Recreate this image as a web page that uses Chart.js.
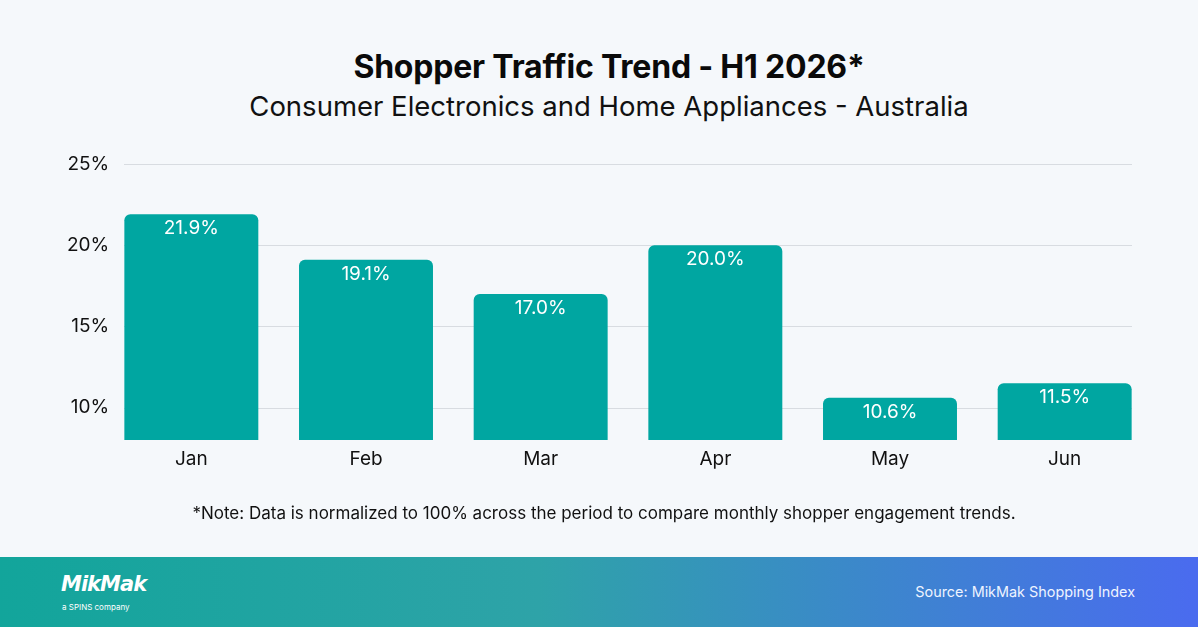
<!DOCTYPE html>
<html>
<head>
	<title>ShopperTrafficTrend</title>
	<style>
		body { margin: 0; width: 1198px; height: 627px; background: #f5f8fb; font-family: Inter, Arial, sans-serif; position: relative; overflow: hidden; }
		h1 { position: absolute; top: 47px; left: 10px; width: 1198px; margin: 0; text-align: center; font-size: 32px; font-weight: 700; color: #0a0a0a; letter-spacing: -0.2px; }
		.sub { position: absolute; top: 89px; left: 10px; width: 1198px; text-align: center; font-size: 27.5px; color: #111; }
		.note { position: absolute; top: 503px; left: 0; width: 1208px; text-align: center; font-size: 17px; color: #111; }
		#wrap { position: absolute; left: 0; top: 0; width: 1198px; height: 627px; }
		.footer { position: absolute; left: 0; top: 557px; width: 1198px; height: 70px; background: linear-gradient(90deg, #12a59b 0%, #2ea3a8 45%, #4a6bef 100%); color: #fff; }
		.logo { position: absolute; left: 61px; top: 15px; font-size: 21px; font-weight: 700; font-style: italic; letter-spacing: -1px; font-family: "DejaVu Sans", sans-serif; }
		.tag { position: absolute; left: 62px; top: 45px; font-size: 8px; }
		.src { position: absolute; right: 63px; top: 26px; font-size: 14.4px; color: #eef4ff; }
	</style>
	<script src="https://cdn.jsdelivr.net/npm/chart.js"></script>
</head>
<body>
	<h1>Shopper Traffic Trend - H1 2026*</h1>
	<div class="sub">Consumer Electronics and Home Appliances - Australia</div>
	<div id="wrap"><canvas id="trafficChart"></canvas></div>
	<div class="note">*Note: Data is normalized to 100% across the period to compare monthly shopper engagement trends.</div>
	<div class="footer">
		<div class="logo">MikMak</div>
		<div class="tag">a SPINS company</div>
		<div class="src">Source: MikMak Shopping Index</div>
	</div>

	<script>
		const months = ['Jan', 'Feb', 'Mar', 'Apr', 'May', 'Jun'];
		const traffic = [21.9, 19.1, 17.0, 20.0, 10.6, 11.5];
		const yTicks = [10, 15, 20, 25];

		// horizontal grid lines, only between first and last bar edges
		const gridLines = {
			id: 'gridLines',
			beforeDatasetsDraw(chart) {
				const ctx = chart.ctx;
				const y = chart.scales.y;
				const area = chart.chartArea;
				ctx.save();
				ctx.strokeStyle = '#d8dce1';
				ctx.lineWidth = 1;
				yTicks.forEach(v => {
					const py = Math.round(y.getPixelForValue(v)) + 0.5;
					ctx.beginPath();
					ctx.moveTo(area.left + 20, py);
					ctx.lineTo(area.right - 20, py);
					ctx.stroke();
				});
				ctx.restore();
			}
		};

		// white value labels inside the top of each bar
		const valueLabels = {
			id: 'valueLabels',
			afterDatasetsDraw(chart) {
				const ctx = chart.ctx;
				const meta = chart.getDatasetMeta(0);
				ctx.save();
				ctx.fillStyle = '#ffffff';
				ctx.font = '19px Inter';
				ctx.textAlign = 'center';
				ctx.textBaseline = 'middle';
				meta.data.forEach((bar, i) => {
					ctx.fillText(traffic[i].toFixed(1) + '%', bar.x, bar.y + 14);
				});
				ctx.restore();
			}
		};

		const ctx = document.getElementById('trafficChart').getContext('2d');
		new Chart(ctx, {
			type: 'bar',
			data: {
				labels: months,
				datasets: [{
					data: traffic,
					backgroundColor: '#00a6a1',
					borderRadius: { topLeft: 6, topRight: 6 },
					borderSkipped: 'bottom',
					categoryPercentage: 1,
					barPercentage: 0.767
				}]
			},
			options: {
				responsive: true,
				maintainAspectRatio: false,
				animation: false,
				layout: { padding: { left: 0, right: 46, top: 164, bottom: 147 } },
				plugins: { legend: { display: false }, tooltip: { enabled: false } },
				scales: {
					x: {
						grid: { display: false },
						border: { display: false },
						ticks: { color: '#111', font: { family: 'Inter', size: 19 }, padding: 0 },
						afterFit(scale) { scale.height = 40; }
					},
					y: {
						min: 8,
						max: 25,
						afterBuildTicks(scale) { scale.ticks = yTicks.map(v => ({ value: v })); },
						afterFit(scale) { scale.width = 104; },
						grid: { display: false, drawTicks: false },
						border: { display: false },
						ticks: {
							mirror: true,
							crossAlign: 'far',
							color: '#111',
							font: { family: 'Inter', size: 19 },
							padding: -37,
							callback: v => v + '%'
						}
					}
				}
			},
			plugins: [gridLines, valueLabels]
		});
	</script>
</body>
</html>
